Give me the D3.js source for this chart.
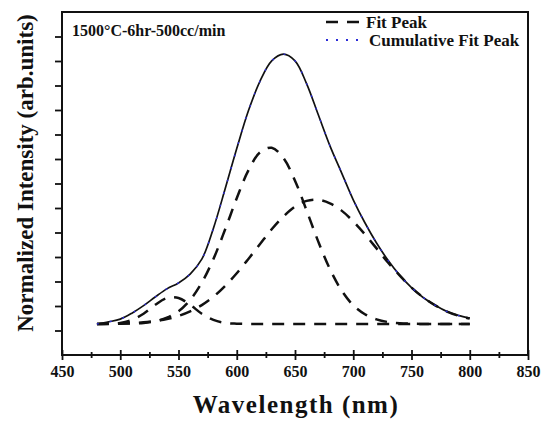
<!DOCTYPE html>
<html>
<head>
<meta charset="utf-8">
<script src="https://cdn.jsdelivr.net/npm/d3@7"></script>
<style>
  body { margin: 0; background: #fff; }
  text { font-family: "Liberation Serif", "Times New Roman", serif; font-weight: bold; fill: #111; }
</style>
</head>
<body>
<svg id="pl" width="550" height="424"></svg>
<script>
// wavelength grid (nm)
var wavelength = [480, 490, 500, 510, 520, 530, 540, 550, 560, 570, 580, 590, 600, 610, 620, 630, 640,
                  650, 660, 670, 680, 690, 700, 710, 720, 730, 740, 750, 760, 770, 780, 790, 800];

// measured spectrum (cumulative fit lies on top of it)
var measured = [0.000, 0.008, 0.018, 0.040, 0.068, 0.100, 0.130, 0.152, 0.185, 0.240, 0.355, 0.500, 0.650,
                0.790, 0.900, 0.975, 1.000, 0.975, 0.890, 0.775, 0.660, 0.560, 0.460, 0.375, 0.300, 0.235,
                0.180, 0.135, 0.098, 0.070, 0.047, 0.032, 0.022];

// fitted peaks
var peak545 = [0.000, 0.001, 0.004, 0.015, 0.038, 0.071, 0.096, 0.096, 0.071, 0.038, 0.015, 0.004, 0.001,
               0.000, 0.000, 0.000, 0.000, 0.000, 0.000, 0.000, 0.000, 0.000, 0.000, 0.000, 0.000, 0.000,
               0.000, 0.000, 0.000, 0.000, 0.000, 0.000, 0.000];
var peak628 = [0.000, 0.000, 0.001, 0.002, 0.004, 0.010, 0.023, 0.047, 0.089, 0.153, 0.241, 0.350, 0.466,
               0.569, 0.636, 0.653, 0.615, 0.531, 0.420, 0.305, 0.203, 0.124, 0.069, 0.036, 0.017, 0.007,
               0.003, 0.001, 0.000, 0.000, 0.000, 0.000, 0.000];
var peak667 = [0.000, 0.001, 0.002, 0.003, 0.006, 0.011, 0.018, 0.030, 0.047, 0.070, 0.101, 0.141, 0.188,
               0.241, 0.296, 0.351, 0.398, 0.435, 0.456, 0.460, 0.447, 0.420, 0.380, 0.332, 0.280, 0.227,
               0.179, 0.135, 0.099, 0.070, 0.047, 0.031, 0.020];

var xTicks = [450, 500, 550, 600, 650, 700, 750, 800, 850];
var xMinor = [475, 525, 575, 625, 675, 725, 775, 825];

var svg = d3.select('#pl'),
    margin = {top: 12, right: 22, bottom: 69, left: 62},
    width = +svg.attr('width') - margin.left - margin.right,
    height = +svg.attr('height') - margin.top - margin.bottom,
    g = svg.append('g').attr('transform', `translate(${margin.left}, ${margin.top})`);

var yLo = -0.115, yHi = 1.156;
var x = d3.scaleLinear().domain([450, 850]).range([0, width]),
    y = d3.scaleLinear().domain([yLo, yHi]).range([height, 0]);
var yTicks = d3.range(1, 14).map(i => yLo + i * (yHi - yLo) / 14);

var line = vals => d3.line()
  .x((d, i) => x(wavelength[i]))
  .y(d => y(d))
  .curve(d3.curveCatmullRom)(vals);

// axes
var xa = g.append('g')
  .attr('transform', `translate(0, ${height})`)
  .call(d3.axisBottom(x).tickValues(xTicks).tickSize(5).tickPadding(6).tickFormat(d3.format('d')));
xa.selectAll('text').attr('font-family', null).style('font-size', '16px');
xa.selectAll('.tick line').attr('y1', -5);
var xm = g.append('g')
  .attr('transform', `translate(0, ${height})`)
  .call(d3.axisBottom(x).tickValues(xMinor).tickSize(3).tickFormat(''));
xm.selectAll('.tick line').attr('y1', -3);
var ya = g.append('g')
  .call(d3.axisLeft(y).tickValues(yTicks).tickSize(7).tickFormat(''));
g.selectAll('.domain').remove();
g.selectAll('.tick line').attr('stroke', '#111').attr('stroke-width', 1.8);

// frame
g.append('rect')
  .attr('width', width).attr('height', height)
  .attr('fill', 'none').attr('stroke', '#111').attr('stroke-width', 2);

// fitted peaks
[peak545, peak628, peak667].forEach(p => {
  g.append('path')
    .attr('d', line(p))
    .attr('fill', 'none')
    .attr('stroke', '#111')
    .attr('stroke-width', 2.5)
    .attr('stroke-dasharray', '12,9');
});

// measured + cumulative fit
g.append('path')
  .attr('d', line(measured))
  .attr('fill', 'none')
  .attr('stroke', '#111')
  .attr('stroke-width', 1.7)
  .attr('stroke-linejoin', 'round');
g.append('path')
  .attr('d', line(measured))
  .attr('fill', 'none')
  .attr('stroke', '#2b2bd6')
  .attr('stroke-width', 1.4)
  .attr('stroke-dasharray', '2,11');

// annotation
g.append('text')
  .attr('x', 10).attr('y', 24)
  .style('font-size', '16px')
  .text('1500°C-6hr-500cc/min');

// legend
var lg = svg.append('g');
lg.append('line')
  .attr('x1', 326).attr('x2', 362).attr('y1', 22).attr('y2', 22)
  .attr('stroke', '#111').attr('stroke-width', 2.5).attr('stroke-dasharray', '12,9');
lg.append('text').attr('x', 366).attr('y', 28).style('font-size', '17px').text('Fit Peak');
lg.append('line')
  .attr('x1', 326).attr('x2', 362).attr('y1', 40).attr('y2', 40)
  .attr('stroke', '#2b2bd6').attr('stroke-width', 2.2).attr('stroke-dasharray', '2,8');
lg.append('text').attr('x', 369).attr('y', 46).style('font-size', '17px').text('Cumulative Fit Peak');

// axis titles
svg.append('text')
  .attr('x', 296).attr('y', 413)
  .attr('text-anchor', 'middle')
  .style('font-size', '25px')
  .style('letter-spacing', '1.5px')
  .text('Wavelength (nm)');
svg.append('text')
  .attr('transform', 'translate(33, 173) rotate(-90)')
  .attr('text-anchor', 'middle')
  .style('font-size', '23px')
  .text('Normalized Intensity (arb.units)');
</script>
</body>
</html>
